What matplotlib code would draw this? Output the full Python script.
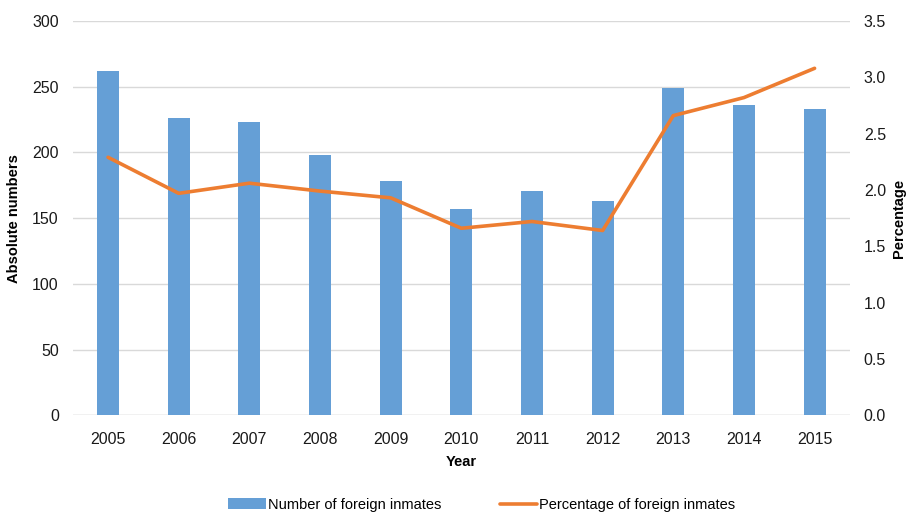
import matplotlib.pyplot as plt
import numpy as np

# Data
years = ['2005', '2006', '2007', '2008', '2009', '2010', '2011', '2012', '2013', '2014', '2015']
inmates = [262, 226, 223, 198, 178, 157, 171, 163, 249, 236, 233]
percentage = [2.29, 1.97, 2.06, 1.99, 1.93, 1.66, 1.72, 1.64, 2.66, 2.82, 3.08]

bar_color = '#659FD6'
line_color = '#ED7D31'
plt.rcParams['font.family'] = ['Liberation Sans', 'DejaVu Sans']

fig = plt.figure(figsize=(9.09, 5.12), dpi=100)
ax = fig.add_axes([0.080, 0.189, 0.855, 0.770])
ax2 = ax.twinx()

x = np.arange(len(years))
bars = ax.bar(x, inmates, width=0.31, color=bar_color, zorder=2,
              label='Number of foreign inmates')
line, = ax2.plot(x, percentage, color=line_color, linewidth=2.6,
                 solid_capstyle='round', label='Percentage of foreign inmates')

ax.set_xlim(-0.5, len(years) - 0.5)
ax.set_ylim(0, 300)
ax.set_yticks(np.arange(0, 301, 50))
ax2.set_ylim(0, 3.5)
ax2.set_yticks(np.arange(0, 3.51, 0.5))
ax2.set_yticklabels([f'{v:.1f}' for v in np.arange(0, 3.51, 0.5)])
ax.set_xticks(x)
ax.set_xticklabels(years)

ax.grid(axis='y', color='#D9D9D9', linewidth=1, zorder=0)
ax.set_axisbelow(True)
for a in (ax, ax2):
    for s in ('top', 'left', 'right', 'bottom'):
        a.spines[s].set_visible(False)
    a.tick_params(length=0, labelsize=11.5, colors='#1a1a1a')
ax.axhline(0, color='#D9D9D9', linewidth=1, zorder=1)
ax.tick_params(axis='y', pad=10)
ax.tick_params(axis='x', pad=12)
ax2.tick_params(axis='y', pad=10)

ax.set_xlabel('Year', fontsize=10.5, fontweight='bold', labelpad=6)
ax.set_ylabel('Absolute numbers', fontsize=10.5, fontweight='bold', labelpad=8)
ax2.set_ylabel('Percentage', fontsize=10.5, fontweight='bold', labelpad=4)

fig.legend(handles=[bars, line], loc='lower center', bbox_to_anchor=(0.53, -0.025),
           ncol=2, frameon=False, fontsize=10.5, handlelength=2.6,
           handletextpad=0.1, columnspacing=4)

plt.savefig('out.png', dpi=100)
